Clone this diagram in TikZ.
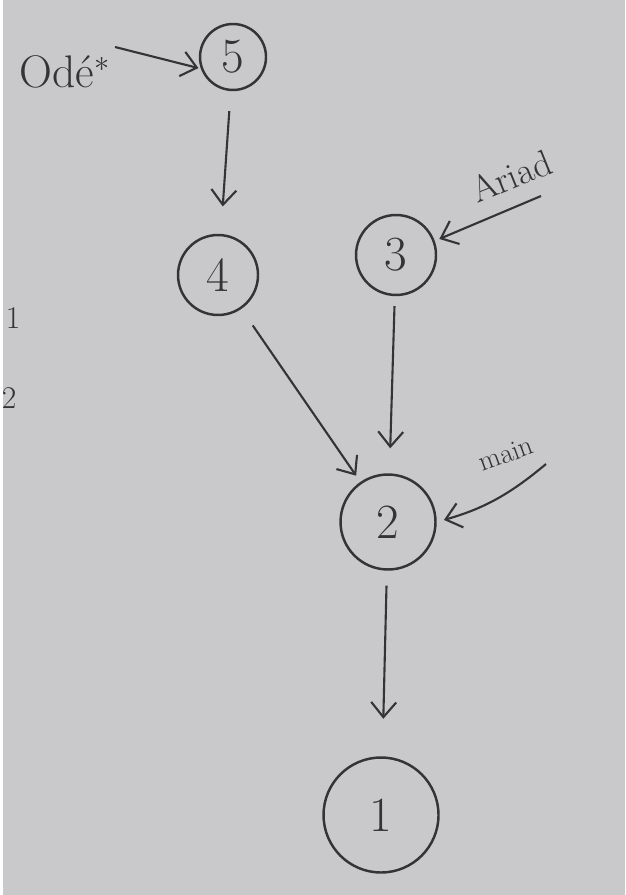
\documentclass[tikz,border=0pt]{standalone}
\usepackage{amsmath,amssymb}
\usepackage{tikz}
\usetikzlibrary{arrows.meta,positioning}
\usepackage{xcolor}
\definecolor{board}{RGB}{201,201,203}
\definecolor{ink}{RGB}{52,52,54}

\begin{document}
\begin{tikzpicture}[x=0.02cm,y=-0.02cm,
  vertex/.style={draw=ink,circle,line width=1.4pt,inner sep=0pt,text=ink,
    font=\fontsize{28}{30}\selectfont},
  edge/.style={draw=ink,line width=1.2pt,-{Straight Barb[length=3mm,width=5mm]}},
  note/.style={text=ink,inner sep=1pt}]
  \fill[board] (0,0) rectangle (622,895);
  % vertices
  \node[vertex,minimum size=1.32cm] (n5) at (230,57) {5};
  \node[vertex,minimum size=1.6cm] (n4) at (215,275) {4};
  \node[vertex,minimum size=1.6cm] (n3) at (393,255) {3};
  \node[vertex,minimum size=1.9cm] (n2) at (385,522) {2};
  \node[vertex,minimum size=2.3cm] (n1) at (378,815) {1};
  % edges
  \draw[edge,shorten <=0.4cm,shorten >=0.55cm] (n5) -- (n4);
  \draw[edge,shorten <=0.4cm,shorten >=0.15cm] (n4) -- (n2);
  \draw[edge,shorten <=0.2cm,shorten >=0.5cm] (n3) -- (n2);
  \draw[edge,shorten <=0.3cm,shorten >=0.75cm] (n2) -- (n1);
  % notes
  \node[note,font=\fontsize{26}{28}\selectfont] (ode) at (62,72) {Od\'e$^{*}$};
  \coordinate (odetail) at (112,47);
  \draw[edge,shorten >=0.05cm] (odetail) -- (n5.200);
  \node[note,rotate=22,font=\fontsize{21}{24}\selectfont] (ariad) at (508,176) {Ariad};
  \coordinate (ariadtail) at (538,196);
  \draw[edge,shorten >=0.1cm] (ariadtail) -- (n3.20);
  \node[note,rotate=20,font=\fontsize{16}{18}\selectfont] (main) at (503,454) {main};
  \coordinate (maintail) at (543,464);
  \draw[edge,shorten >=0.15cm] (maintail) to[bend left=12] (n2.east);
  % left edge
  \node[note,font=\fontsize{18}{20}\selectfont] (m1) at (10,318) {1};
  \node[note,font=\fontsize{18}{20}\selectfont] (m2) at (6,398) {2};
\end{tikzpicture}
\end{document}
